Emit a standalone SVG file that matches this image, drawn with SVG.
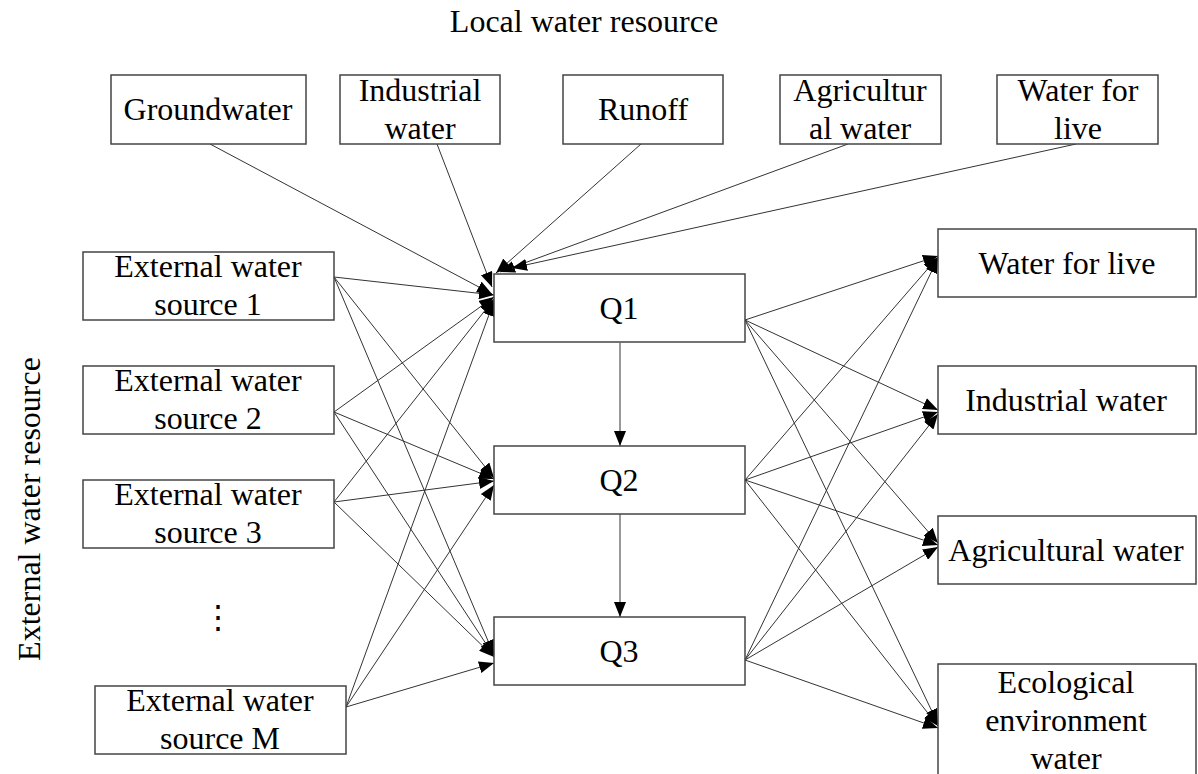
<svg xmlns="http://www.w3.org/2000/svg" width="1198" height="774" viewBox="0 0 1198 774">
<defs>
<marker id="ah" markerUnits="userSpaceOnUse" markerWidth="16" markerHeight="12" refX="15" refY="6" orient="auto">
<path d="M0,0 L15,6 L0,12 z" fill="#000"/>
</marker>
<style>
.box{fill:#fff;stroke:#444;stroke-width:1.5}
.t{font-family:"Liberation Serif","Times New Roman",serif;font-size:32px;fill:#000;text-anchor:middle}
.c line{stroke:#333;stroke-width:1;marker-end:url(#ah)}
</style>
</defs>
<rect width="1198" height="774" fill="#fff"/>
<text class="t" x="584" y="32">Local water resource</text>
<text class="t" transform="translate(40,509) rotate(-90)" x="0" y="0">External water resource</text>
<g class="c" id="connectors">
<line x1="210" y1="144" x2="492" y2="294"/>
<line x1="437" y1="144" x2="492" y2="287"/>
<line x1="641" y1="144" x2="496" y2="273"/>
<line x1="848" y1="144" x2="500" y2="272"/>
<line x1="1076" y1="144" x2="512" y2="268"/>
<line x1="334" y1="277" x2="494" y2="295"/>
<line x1="334" y1="277" x2="494" y2="478"/>
<line x1="334" y1="277" x2="494" y2="655"/>
<line x1="334" y1="412" x2="494" y2="297"/>
<line x1="334" y1="412" x2="494" y2="479"/>
<line x1="334" y1="412" x2="494" y2="656"/>
<line x1="334" y1="502" x2="494" y2="299"/>
<line x1="334" y1="502" x2="494" y2="481"/>
<line x1="334" y1="502" x2="494" y2="657"/>
<line x1="346" y1="707" x2="494" y2="301"/>
<line x1="346" y1="707" x2="494" y2="485"/>
<line x1="346" y1="707" x2="494" y2="663"/>
<line x1="620" y1="343" x2="620" y2="446"/>
<line x1="620" y1="514" x2="620" y2="617"/>
<line x1="745" y1="320" x2="938" y2="256"/>
<line x1="745" y1="320" x2="938" y2="410"/>
<line x1="745" y1="320" x2="938" y2="543"/>
<line x1="745" y1="320" x2="938" y2="724"/>
<line x1="745" y1="480" x2="938" y2="257"/>
<line x1="745" y1="480" x2="938" y2="412"/>
<line x1="745" y1="480" x2="938" y2="545"/>
<line x1="745" y1="480" x2="938" y2="726"/>
<line x1="745" y1="660" x2="938" y2="258"/>
<line x1="745" y1="660" x2="938" y2="414"/>
<line x1="745" y1="660" x2="938" y2="547"/>
<line x1="745" y1="660" x2="938" y2="728"/>
</g>
<g id="groundwater"><rect class="box" x="111" y="75" width="195" height="69"/><text class="t" x="208" y="120">Groundwater</text></g>
<g id="industrial-top"><rect class="box" x="340" y="75" width="160" height="69"/><text class="t" x="420" y="101">Industrial</text><text class="t" x="420" y="139">water</text></g>
<g id="runoff"><rect class="box" x="563" y="75" width="160" height="69"/><text class="t" x="643" y="120">Runoff</text></g>
<g id="agricultural-top"><rect class="box" x="780" y="75" width="161" height="69"/><text class="t" x="860" y="101">Agricultur</text><text class="t" x="860" y="139">al water</text></g>
<g id="live-top"><rect class="box" x="997" y="75" width="161" height="69"/><text class="t" x="1078" y="101">Water for</text><text class="t" x="1078" y="139">live</text></g>
<g id="ext1"><rect class="box" x="83" y="252" width="251" height="68"/><text class="t" x="208" y="277">External water</text><text class="t" x="208" y="315">source 1</text></g>
<g id="ext2"><rect class="box" x="83" y="366" width="251" height="68"/><text class="t" x="208" y="391">External water</text><text class="t" x="208" y="429">source 2</text></g>
<g id="ext3"><rect class="box" x="83" y="480" width="251" height="68"/><text class="t" x="208" y="505">External water</text><text class="t" x="208" y="543">source 3</text></g>
<text class="t" x="218" y="628">⋮</text>
<g id="extM"><rect class="box" x="95" y="686" width="251" height="68"/><text class="t" x="220" y="711">External water</text><text class="t" x="220" y="749">source M</text></g>
<g id="q1"><rect class="box" x="494" y="274" width="251" height="68"/><text class="t" x="619" y="319">Q1</text></g>
<g id="q2"><rect class="box" x="494" y="446" width="251" height="68"/><text class="t" x="619" y="491">Q2</text></g>
<g id="q3"><rect class="box" x="494" y="617" width="251" height="68"/><text class="t" x="619" y="662">Q3</text></g>
<g id="live-out"><rect class="box" x="938" y="229" width="258" height="68"/><text class="t" x="1067" y="274">Water for live</text></g>
<g id="industrial-out"><rect class="box" x="938" y="366" width="258" height="68"/><text class="t" x="1066" y="411">Industrial water</text></g>
<g id="agricultural-out"><rect class="box" x="938" y="516" width="258" height="68"/><text class="t" x="1066" y="561">Agricultural water</text></g>
<g id="ecological"><rect class="box" x="938" y="664" width="258" height="120"/><text class="t" x="1066" y="693">Ecological</text><text class="t" x="1066" y="731">environment</text><text class="t" x="1066" y="769">water</text></g>
</svg>
